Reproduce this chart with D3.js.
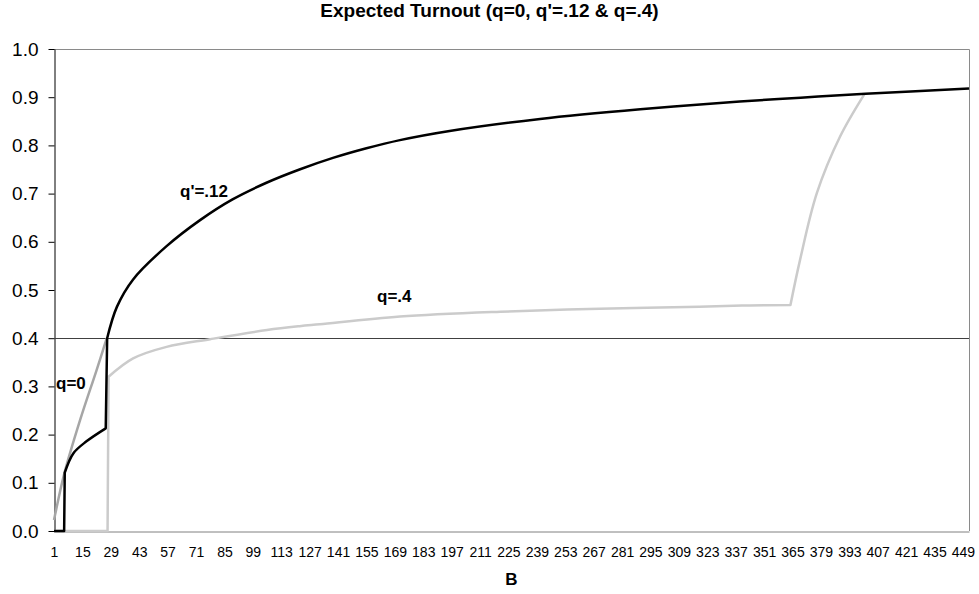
<!DOCTYPE html>
<html>
<head>
<meta charset="utf-8">
<script src="https://cdn.jsdelivr.net/npm/d3@7"></script>
<style>
  body { margin: 0; background: #fff; }
  svg { font-family: "Liberation Sans", Arial, sans-serif; }
</style>
</head>
<body>
<div id="chart"></div>
<script>
// Data: [B, expected turnout]
const qZeroPts = [[1, 0.023], [1.5, 0.033], [6, 0.118], [14, 0.232], [22, 0.334], [27, 0.40]];
const qPrimePts = [
  [1, 0], [6, 0], [6.3, 0.121], [10.5, 0.161], [17, 0.186], [26.5, 0.213], [27.2, 0.40],
  [32, 0.465], [40, 0.522], [56.5, 0.591], [73, 0.645], [89, 0.688], [106, 0.723],
  [122, 0.750], [138.5, 0.774], [155, 0.794], [171.5, 0.811], [196, 0.830], [240.6, 0.855],
  [290, 0.875], [339, 0.891], [369, 0.899], [401, 0.907], [452, 0.918]
];
const qFourPts = [
  [1, 0], [27.4, 0], [27.9, 0.32], [40, 0.358], [56.5, 0.382], [78, 0.398], [106, 0.417],
  [122, 0.425], [132, 0.429], [171.5, 0.445], [221, 0.455], [270, 0.461], [319, 0.465],
  [344, 0.468], [364, 0.469], [368.7, 0.562], [377, 0.701], [388.4, 0.818], [400.7, 0.908]
];
// indices where a series has a sharp corner (jumps)
const qPrimeBreaks = [1, 2, 5, 6];
const qFourBreaks = [1, 2, 14];
const threshold = 0.4;
const xTicks = [1, 15, 29, 43, 57, 71, 85, 99, 113, 127, 141, 155, 169, 183, 197, 211, 225,
  239, 253, 267, 281, 295, 309, 323, 337, 351, 365, 379, 393, 407, 421, 435, 449];
const yTicks = [0, 0.1, 0.2, 0.3, 0.4, 0.5, 0.6, 0.7, 0.8, 0.9, 1.0];

const W = 979, H = 594;
const plot = { left: 54, right: 969, top: 49, bottom: 531 };

const svg = d3.select("#chart").append("svg")
  .attr("width", W)
  .attr("height", H);

const x = d3.scaleLinear().domain([1, 452]).range([plot.left, plot.right]);
const y = d3.scaleLinear().domain([0, 1]).range([plot.bottom, plot.top]);

// Frame (top & right)
svg.append("path")
  .attr("d", `M${plot.left},${plot.top + 0.5}H${plot.right + 0.5}V${plot.bottom}`)
  .attr("fill", "none")
  .attr("stroke", "#8a8a8a")
  .attr("stroke-width", 1);

// X axis
const xAxis = svg.append("g")
  .attr("transform", `translate(0,${plot.bottom + 0.5})`)
  .call(d3.axisBottom(x).tickValues(xTicks).tickSize(0).tickPadding(16).tickFormat(d3.format("d")));
xAxis.select(".domain").attr("stroke", "#808080");
xAxis.selectAll("text").style("font-size", "14px").attr("fill", "#000");

// Y axis
const yAxis = svg.append("g")
  .attr("transform", `translate(${plot.left + 0.5},0)`)
  .call(d3.axisLeft(y).tickValues(yTicks).tickSize(6).tickSizeOuter(0).tickPadding(10).tickFormat(d3.format(".1f")));
yAxis.select(".domain").attr("stroke", "#000");
yAxis.selectAll("line").attr("stroke", "#000");
yAxis.selectAll("text").style("font-size", "19px").attr("fill", "#000");

// 0.4 reference line
svg.append("line")
  .attr("x1", x(1)).attr("x2", plot.right)
  .attr("y1", Math.round(y(threshold)) + 0.5).attr("y2", Math.round(y(threshold)) + 0.5)
  .attr("stroke", "#404040")
  .attr("stroke-width", 1);

const smooth = d3.line()
  .x(d => x(d[0]))
  .y(d => y(d[1]))
  .curve(d3.curveCatmullRom.alpha(0.5));

// smooth between corners, sharp at the corner points
function pathWithBreaks(pts, breaks) {
  const cuts = [0, ...breaks, pts.length - 1];
  let d = "";
  for (let i = 0; i < cuts.length - 1; i++) {
    const piece = pts.slice(cuts[i], cuts[i + 1] + 1);
    if (piece.length < 2) continue;
    const seg = smooth(piece);
    d += i === 0 ? seg : "L" + seg.slice(1);
  }
  return d;
}

function drawSeries(pts, breaks, color) {
  svg.append("path")
    .attr("d", pathWithBreaks(pts, breaks))
    .attr("fill", "none")
    .attr("stroke", color)
    .attr("stroke-width", 2.5)
    .attr("stroke-linejoin", "round");
}

drawSeries(qFourPts, qFourBreaks, "#cbcbcb");
drawSeries(qZeroPts, [], "#a6a6a6");
drawSeries(qPrimePts, qPrimeBreaks, "#000");

// Series labels
const labels = [
  { text: "q'=.12", px: 180, py: 197 },
  { text: "q=.4", px: 377, py: 302 },
  { text: "q=0", px: 56, py: 389 }
];
svg.selectAll(".series-label")
  .data(labels)
  .enter().append("text")
  .attr("x", d => d.px)
  .attr("y", d => d.py)
  .text(d => d.text)
  .style("font-size", "17px")
  .style("font-weight", "bold");

// Title and axis title
svg.append("text")
  .attr("x", W / 2)
  .attr("y", 17)
  .attr("text-anchor", "middle")
  .style("font-size", "19px")
  .style("font-weight", "bold")
  .text("Expected Turnout (q=0, q'=.12 & q=.4)");

svg.append("text")
  .attr("x", (plot.left + plot.right) / 2)
  .attr("y", 585)
  .attr("text-anchor", "middle")
  .style("font-size", "17px")
  .style("font-weight", "bold")
  .text("B");
</script>
</body>
</html>
